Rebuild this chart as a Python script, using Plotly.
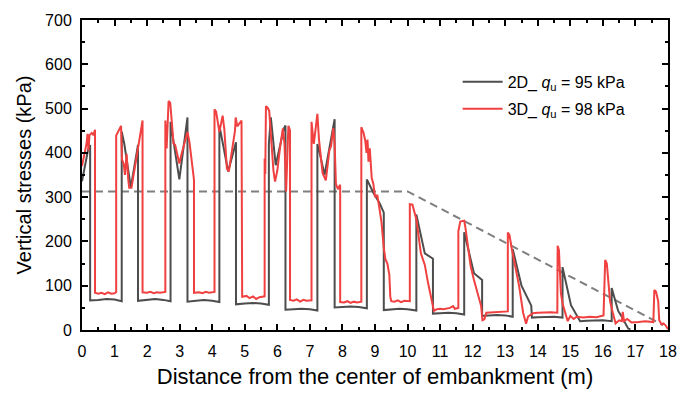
import plotly.graph_objects as go

# ---- data ----
x2d = [0, 0.1, 0.19, 0.25, 0.25, 0.5, 0.75, 1.0, 1.22,
       1.22, 1.3, 1.5, 1.72, 1.72, 2.0, 2.25, 2.5, 2.72,
       2.72, 2.8, 2.99, 3.24, 3.24, 3.5, 3.75, 4.0, 4.22,
       4.22, 4.49, 4.73, 4.73, 5.0, 5.25, 5.5, 5.74,
       5.74, 5.8, 5.95, 6.2, 6.25, 6.25, 6.5, 6.75, 7.0, 7.23,
       7.23, 7.3, 7.45, 7.76, 7.76, 8.0, 8.25, 8.5, 8.75,
       8.75, 8.95, 9.15, 9.27, 9.27, 9.5, 9.75, 10.0, 10.27,
       10.27, 10.53, 10.78, 10.78, 11.0, 11.25, 11.5, 11.74,
       11.74, 12.04, 12.29, 12.29, 12.5, 12.75, 13.0, 13.23,
       13.23, 13.5, 13.8, 13.82, 14.0, 14.25, 14.5, 14.76,
       14.76, 15.02, 15.22, 15.3, 15.5, 15.75, 16.0, 16.27,
       16.27, 16.47, 16.58, 16.78, 16.85]
y2d = [336, 375, 408, 418, 67, 68, 70, 69, 65,
       448, 420, 322, 418, 66, 68, 70, 68, 65,
       470, 430, 340, 480, 64, 66, 68, 66, 63,
       462, 358, 424, 58, 60, 61, 60, 57,
       420, 480, 372, 455, 462, 46, 47, 48, 47, 44,
       420, 400, 350, 476, 51, 52, 53, 52, 49,
       340, 310, 285, 265, 45, 47, 48, 47, 44,
       261, 173, 161, 37, 38, 39, 38, 35,
       221, 128, 113, 32, 33, 34, 33, 30,
       183, 100, 55, 28, 29, 30, 30, 28,
       142, 56, 30, 20, 21, 22, 22, 20,
       95, 43, 30, 3, 2]

x3d = [0, 0.08, 0.14, 0.17, 0.2, 0.23, 0.3, 0.35, 0.4, 0.4,
       0.5, 0.6, 0.7, 0.8, 0.9, 1.0, 1.05,
       1.05, 1.2, 1.23, 1.28, 1.32, 1.37, 1.42, 1.45, 1.52, 1.6, 1.72, 1.86, 1.86,
       2.0, 2.1, 2.2, 2.3, 2.4, 2.56,
       2.56, 2.6, 2.66, 2.71, 2.76, 2.81, 2.86, 2.99, 3.06, 3.17, 3.24, 3.3, 3.37, 3.44, 3.44,
       3.6, 3.7, 3.8, 3.9, 4.07,
       4.07, 4.12, 4.22, 4.32, 4.37, 4.45, 4.51, 4.6, 4.7, 4.72, 4.77, 4.9, 4.92,
       5.05, 5.15, 5.25, 5.35, 5.45, 5.61,
       5.61, 5.63, 5.65, 5.7, 5.75, 5.8, 5.84, 5.88, 5.93, 6.0, 6.08, 6.17, 6.22, 6.27, 6.34, 6.39, 6.39,
       6.5, 6.6, 6.7, 6.8, 6.9, 7.05,
       7.05, 7.12, 7.23, 7.28, 7.32, 7.39, 7.49, 7.55, 7.6, 7.65, 7.72, 7.76, 7.8, 7.86, 7.93, 7.93,
       8.05, 8.15, 8.25, 8.35, 8.45, 8.58,
       8.58, 8.65, 8.7, 8.74, 8.77, 8.8, 8.84, 8.9, 8.95, 9.0, 9.07, 9.15, 9.2, 9.27, 9.32, 9.38, 9.44, 9.47, 9.5,
       9.6, 9.7, 9.8, 9.9, 10.07,
       10.07, 10.15, 10.27, 10.41, 10.53, 10.63, 10.73, 10.81,
       10.9, 11.0, 11.1, 11.2, 11.3, 11.4, 11.45, 11.56,
       11.56, 11.62, 11.74, 11.78, 11.94, 12.04, 12.15, 12.26, 12.3, 12.36, 12.42,
       12.6, 12.8, 13.0, 13.08,
       13.08, 13.13, 13.2, 13.3, 13.43, 13.55, 13.64, 13.7, 13.85,
       14.0, 14.2, 14.4, 14.6,
       14.61, 14.65, 14.71, 14.76, 14.83, 14.92, 15.0, 15.1, 15.2, 15.4, 15.6, 15.8, 16.02,
       16.07, 16.12, 16.22, 16.3, 16.39, 16.5, 16.58, 16.61, 16.65, 16.75, 16.88, 17.1, 17.3, 17.55,
       17.58, 17.63, 17.7, 17.73, 17.8, 17.86, 17.93, 18.0]
y3d = [370, 395, 421, 443, 405, 440, 445, 440, 452, 84,
       82, 84, 81, 85, 82, 83, 86,
       439, 461, 385, 375, 350, 398, 340, 321, 321, 360, 410, 473, 85,
       84, 86, 83, 85, 84, 86,
       473, 410, 517, 513, 469, 421, 418, 376, 398, 428, 447, 425, 380, 339, 84,
       85, 83, 86, 84, 86,
       498, 493, 447, 484, 455, 365, 358, 400, 450, 480, 460, 473, 75,
       77, 72, 76, 70, 74, 76,
       387, 352, 505, 502, 495, 440, 410, 360, 335, 360, 410, 455, 420, 313, 461, 450, 68,
       66, 69, 64, 68, 66, 67,
       470, 420, 488, 430, 395, 354, 338, 380, 406, 415, 456, 420, 330, 318, 328, 63,
       62, 65, 61, 64, 62, 64,
       458, 445, 428, 400, 430, 380, 410, 343, 330, 300, 305, 268, 243, 185, 160, 150, 125, 75, 65,
       64, 67, 63, 66, 65,
       284, 283, 250, 173, 147, 106, 69, 43,
       47, 48, 47, 49, 50, 54, 48, 50,
       223, 245, 247, 230, 143, 113, 85, 54, 22, 24, 39,
       40, 41, 43, 42,
       220, 215, 184, 143, 98, 39, 14, 30, 38,
       39, 40, 40, 39,
       190, 180, 84, 60, 40, 20, 32, 25, 30, 28, 30, 29, 33,
       158, 150, 65, 40, 15, 22, 20, 41, 20, 25, 17, 18, 20, 18,
       90, 87, 65, 22, 13, 15, 10, 2]

x_ref = [0, 10, 17.85]
y_ref = [313, 313, 11]

name2d = "2D_ <i>q</i><sub>u</sub> = 95 kPa"
name3d = "3D_ <i>q</i><sub>u</sub> = 98 kPa"

fig = go.Figure()
fig.add_trace(go.Scatter(x=x_ref, y=y_ref, mode="lines", showlegend=False,
                         line=dict(color="#7f7f7f", width=2, dash="8px,5px")))
fig.add_trace(go.Scatter(x=x2d, y=y2d, mode="lines", name=name2d, legendgroup="a",
                         line=dict(color="#4d4d4d", width=2)))
fig.add_trace(go.Scatter(x=x3d, y=y3d, mode="lines", name=name3d, legendgroup="b",
                         line=dict(color="#f04040", width=2)))

font_family = "Liberation Sans, Arial, sans-serif"
axis_common = dict(
    showline=True, linecolor="black", linewidth=2, mirror="allticks",
    ticks="inside", ticklen=6, tickwidth=1.5, tickcolor="black",
    showgrid=False, zeroline=False,
    tickfont=dict(family=font_family, size=16, color="black"),
)

fig.update_layout(
    width=689, height=397,
    margin=dict(l=82, r=12, t=16, b=66),
    paper_bgcolor="white", plot_bgcolor="white",
    font=dict(family=font_family, color="black"),
    legend=dict(x=0.641, y=0.855, xanchor="left", yanchor="top",
                bgcolor="rgba(0,0,0,0)", font=dict(size=16, family=font_family),
                itemwidth=40, tracegroupgap=3),
    xaxis=dict(range=[0, 18], dtick=1, tick0=0, ticklabelstandoff=6,
               minor=dict(dtick=0.5, ticks="inside", ticklen=3, tickcolor="black"),
               title=dict(text="Distance from the center of embankment (m)",
                          font=dict(size=22, family=font_family), standoff=9),
               **axis_common),
    yaxis=dict(range=[0, 700], dtick=100, tick0=0, ticklabelstandoff=5,
               minor=dict(dtick=50, ticks="inside", ticklen=3, tickcolor="black"),
               title=dict(text="Vertical stresses (kPa)",
                          font=dict(size=20, family=font_family), standoff=8),
               **axis_common),
)

fig.write_html("out.html")
